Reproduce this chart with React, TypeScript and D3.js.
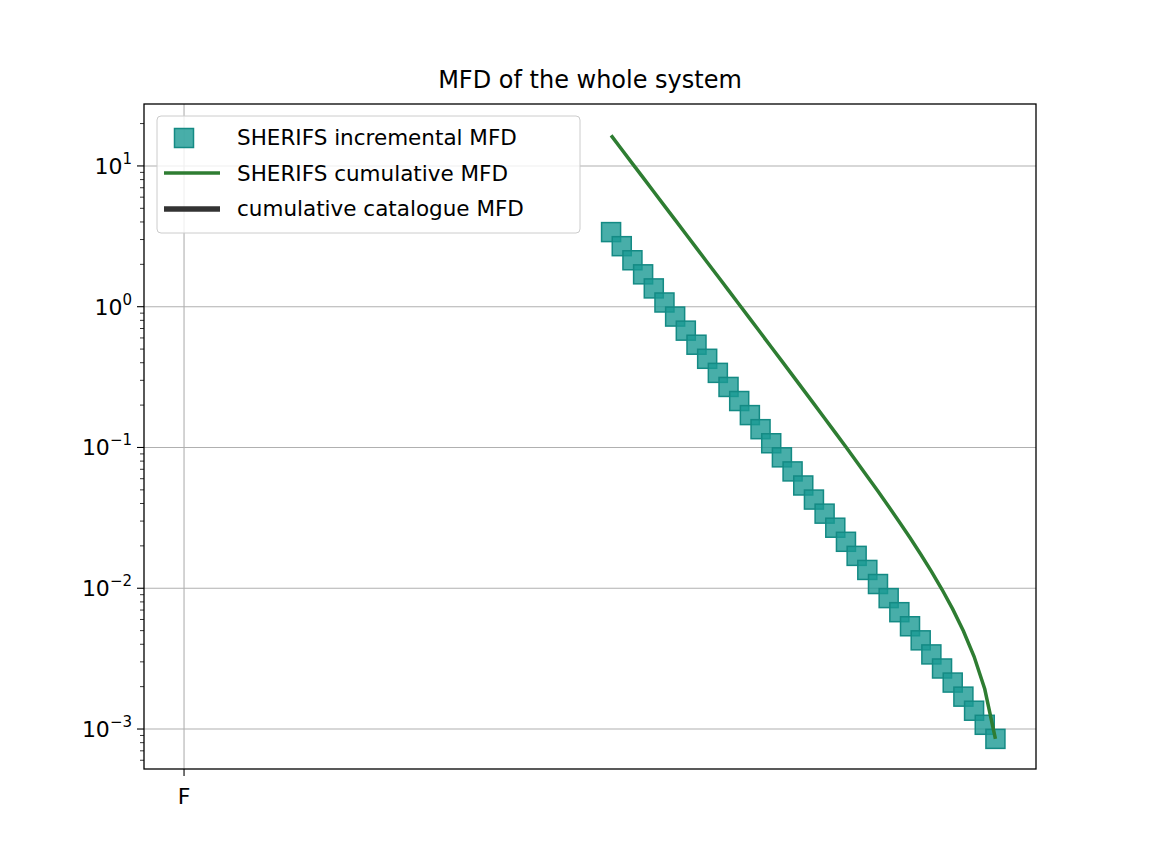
import * as d3 from 'd3';
import React from 'react';

// magnitude bins and incremental rates (log10)
const mags = [5.0, 5.1, 5.2, 5.3, 5.4, 5.5, 5.6, 5.7, 5.8, 5.9, 6.0, 6.1, 6.2, 6.3, 6.4, 6.5, 6.6, 6.7, 6.8, 6.9,
  7.0, 7.1, 7.2, 7.3, 7.4, 7.5, 7.6, 7.7, 7.8, 7.9, 8.0, 8.1, 8.2, 8.3, 8.4, 8.5, 8.6];
const incLog = [0.53, 0.43, 0.33, 0.23, 0.13, 0.03, -0.07, -0.17, -0.27, -0.37, -0.47, -0.57, -0.67, -0.77,
  -0.87, -0.97, -1.07, -1.17, -1.27, -1.37, -1.47, -1.57, -1.67, -1.77, -1.87, -1.97, -2.07, -2.17, -2.27,
  -2.37, -2.47, -2.57, -2.67, -2.77, -2.87, -2.97, -3.07];
const incremental = incLog.map(v => Math.pow(10, v));
const cumulative = incremental.map((_, i) => d3.sum(incremental.slice(i)));
const yTicks = [1e1, 1e0, 1e-1, 1e-2, 1e-3];
const yTickExp = ['1', '0', '−1', '−2', '−3'];
const xTicks = [1.0];
const xTickLabels = ['F'];

const W = 1152, H = 864;
const m = { left: 144, right: 1036, top: 104, bottom: 769 };

export default function App() {
  const x = d3.scaleLinear().domain([0.625, 8.98]).range([m.left, m.right]);
  const y = d3.scaleLog().domain([Math.pow(10, -3.284), Math.pow(10, 1.44)]).range([m.bottom, m.top]);
  const minor: number[] = [];
  for (let e = -4; e <= 1; e++) for (let k = 2; k <= 9; k++) {
    const v = k * Math.pow(10, e);
    if (v > y.domain()[0] && v < y.domain()[1]) minor.push(v);
  }
  const line = d3.line<number>().x((_, i) => x(mags[i])).y(d => y(d));
  const font = 'DejaVu Sans, sans-serif';
  const sq = 19;
  return (
    <svg width={W} height={H} style={{ display: 'block', margin: -8, fontFamily: font }}>
      <rect width={W} height={H} fill="#fff" />
      <text x={(m.left + m.right) / 2} y={88} textAnchor="middle" fontSize={24}>MFD of the whole system</text>
      {yTicks.map(t => <line key={t} x1={m.left} x2={m.right} y1={y(t)} y2={y(t)} stroke="#b0b0b0" strokeWidth={1.1} />)}
      {xTicks.map(t => <line key={t} x1={x(t)} x2={x(t)} y1={m.top} y2={m.bottom} stroke="#b0b0b0" strokeWidth={1.1} />)}
      {mags.map((mg, i) => (
        <rect key={mg} x={x(mg) - sq / 2} y={y(incremental[i]) - sq / 2} width={sq} height={sq}
          fill="#1a9a93" fillOpacity={0.8} stroke="#148a84" strokeWidth={1.5} />
      ))}
      <path d={line(cumulative) || ''} fill="none" stroke="#2e7d32" strokeWidth={3.5} />
      <rect x={m.left} y={m.top} width={m.right - m.left} height={m.bottom - m.top} fill="none" stroke="#000" strokeWidth={1.3} />
      {yTicks.map((t, i) => (
        <g key={t}>
          <line x1={m.left - 7} x2={m.left} y1={y(t)} y2={y(t)} stroke="#000" strokeWidth={1.1} />
          <text x={m.left - 12} y={y(t) + 8} textAnchor="end" fontSize={22}>
            10<tspan dy={-10} fontSize={15}>{yTickExp[i]}</tspan>
          </text>
        </g>
      ))}
      {minor.map(v => <line key={v} x1={m.left - 4} x2={m.left} y1={y(v)} y2={y(v)} stroke="#000" strokeWidth={0.8} />)}
      {xTicks.map((t, i) => (
        <g key={t}>
          <line x1={x(t)} x2={x(t)} y1={m.bottom} y2={m.bottom + 7} stroke="#000" strokeWidth={1.1} />
          <text x={x(t)} y={m.bottom + 35} textAnchor="middle" fontSize={22}>{xTickLabels[i]}</text>
        </g>
      ))}
      <g>
        <rect x={157} y={116} width={423} height={117} rx={4} fill="#fff" fillOpacity={0.8} stroke="#ccc" />
        <rect x={184 - sq / 2} y={138 - sq / 2} width={sq} height={sq} fill="#1a9a93" fillOpacity={0.8} stroke="#148a84" strokeWidth={1.5} />
        <line x1={164} x2={220} y1={173} y2={173} stroke="#2e7d32" strokeWidth={3.5} />
        <line x1={164} x2={220} y1={209} y2={209} stroke="#333" strokeWidth={5.5} />
        <text x={237} y={145} fontSize={21.5}>SHERIFS incremental MFD</text>
        <text x={237} y={181} fontSize={21.5}>SHERIFS cumulative MFD</text>
        <text x={237} y={216} fontSize={21.5}>cumulative catalogue MFD</text>
      </g>
    </svg>
  );
}
